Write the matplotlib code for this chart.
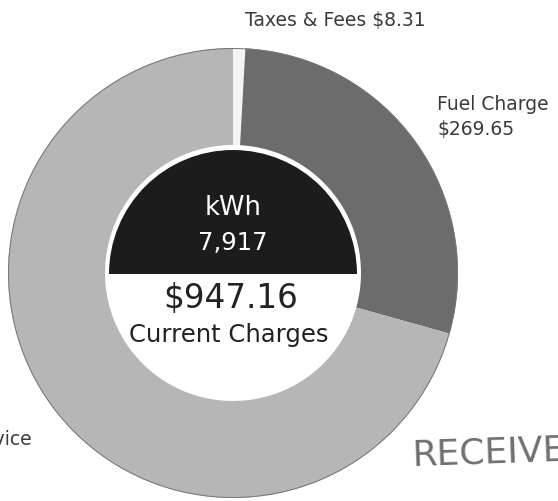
import matplotlib.pyplot as plt
from matplotlib.patches import Wedge

# charges on the bill
labels = ['Taxes & Fees', 'Fuel Charge', 'Electric Service']
amounts = [8.31, 269.65, 669.20]
colors = ['#f4f4f4', '#6c6c6c', '#b6b6b6']
kwh = '7,917'
total = '$947.16'

plt.rcParams['font.family'] = ['DejaVu Sans']

W, H = 558, 502
fig = plt.figure(figsize=(W / 100, H / 100), dpi=100)
ax = fig.add_axes([0, 0, 1, 1])

cx, cy = 233, H - 274
r_out, r_in = 225, 128

ax.pie(amounts, colors=colors, radius=r_out, center=(cx, cy),
       startangle=90, counterclock=False,
       wedgeprops=dict(width=r_out - r_in, edgecolor='none'))
# thin outline on the ring
ax.add_patch(Wedge((cx, cy), r_out, 0, 360, width=1.0,
                   facecolor='#777777', edgecolor='none'))

# black cap on the upper half of the hole
ax.add_patch(Wedge((cx, cy - 1), r_in - 4, 0, 180, facecolor='#1c1c1c',
                   edgecolor='none'))

ax.text(cx, H - 215, 'kWh', color='white', fontsize=18.5, ha='center', va='baseline')
ax.text(cx, H - 250, kwh, color='white', fontsize=17.5, ha='center', va='baseline')
ax.text(cx - 2, H - 308, total, color='#222222', fontsize=23.5, ha='center',
        va='baseline')
ax.text(cx - 4, H - 342, 'Current Charges', color='#222222', fontsize=17.5,
        ha='center', va='baseline')

# slice labels
lab_kw = dict(color='#3a3a3a', fontsize=13.5, va='baseline')
ax.text(335, H - 26, f'{labels[0]} ${amounts[0]:.2f}', ha='center', **lab_kw)
ax.text(437, H - 110, labels[1], ha='left', **lab_kw)
ax.text(437, H - 135, f'${amounts[1]:.2f}', ha='left', **lab_kw)
ax.text(32, H - 445, labels[2], ha='right', **lab_kw)

# scanner stamp
ax.text(412, H - 465, 'RECEIVED', color='#707070', fontsize=26,
        ha='left', va='baseline', rotation=2)

ax.set_xlim(0, W)
ax.set_ylim(0, H)
ax.set_aspect('equal')
ax.axis('off')

plt.savefig('out.png', dpi=100)
